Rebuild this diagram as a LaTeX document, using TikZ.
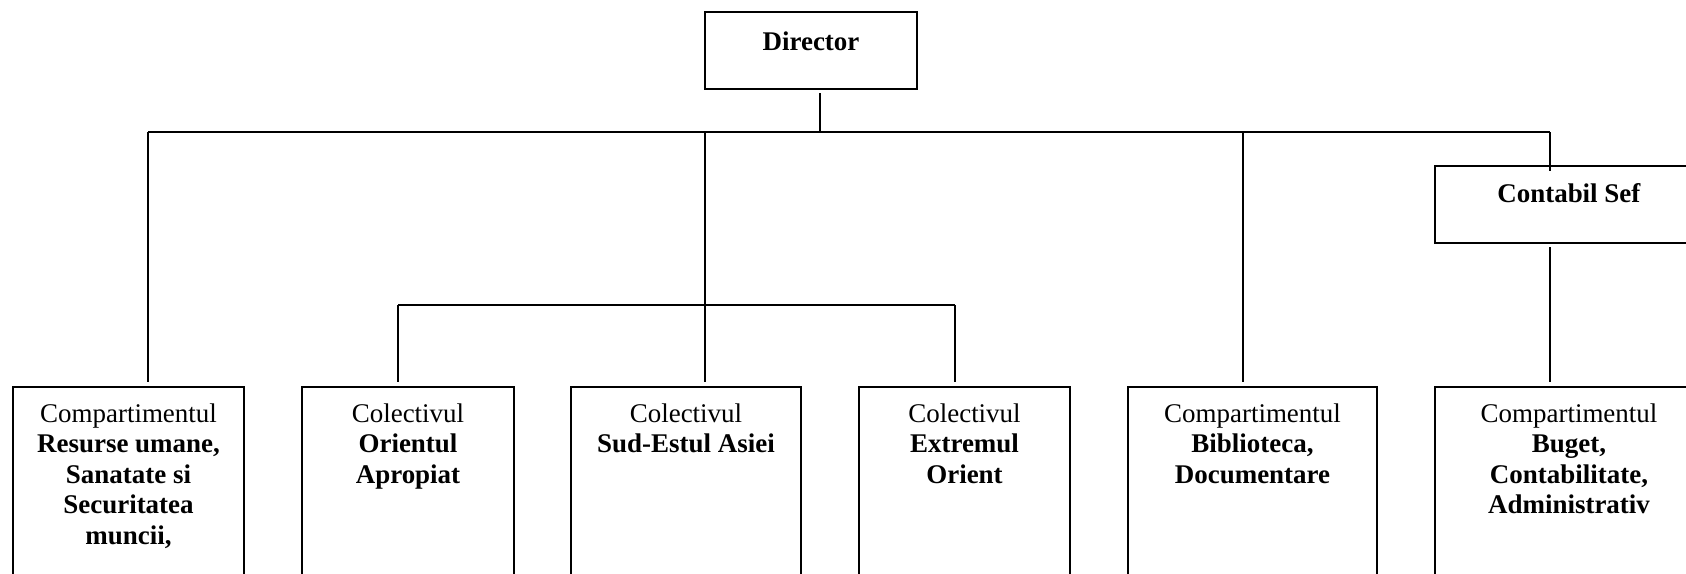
\documentclass[tikz,border=0pt]{standalone}
\usepackage{fontspec}
\setmainfont{Liberation Serif}
\begin{document}
\begin{tikzpicture}[x=0.445pt,y=-0.445pt,
  box/.style={draw,line width=0.85pt,inner sep=0pt,outer sep=0pt,anchor=north west},
  txt/.style={anchor=north,align=center,inner sep=0pt,font=\fontsize{12pt}{13.6pt}\selectfont},
  conn/.style={line width=0.85pt}]
\useasboundingbox (0,0) rectangle (1686,574);
\clip (0,0) rectangle (1686,574);
% boxes
\node[box,minimum width=212*0.445pt,minimum height=77*0.445pt] (dir) at (705,12) {};
\node[box,minimum width=265*0.445pt,minimum height=77*0.445pt] (cs) at (1435,166) {};
\node[box,minimum width=231*0.445pt,minimum height=220*0.445pt] (b1) at (13,387) {};
\node[box,minimum width=212*0.445pt,minimum height=220*0.445pt] (b2) at (302,387) {};
\node[box,minimum width=230*0.445pt,minimum height=220*0.445pt] (b3) at (571,387) {};
\node[box,minimum width=211*0.445pt,minimum height=220*0.445pt] (b4) at (859,387) {};
\node[box,minimum width=249*0.445pt,minimum height=220*0.445pt] (b5) at (1128,387) {};
\node[box,minimum width=265*0.445pt,minimum height=220*0.445pt] (b6) at (1435,387) {};
% texts
\node[txt] (tdir) at (811,31) {\textbf{Director}};
\node[txt] (tcs) at (1569,183) {\textbf{Contabil Sef}};
\node[txt] (t1) at (128.5,403) {Compartimentul\\\textbf{Resurse umane,}\\\textbf{Sanatate si}\\\textbf{Securitatea}\\\textbf{muncii,}};
\node[txt] (t2) at (408,403) {Colectivul\\\textbf{Orientul}\\\textbf{Apropiat}};
\node[txt] (t3) at (686,403) {Colectivul\\\textbf{Sud-Estul Asiei}};
\node[txt] (t4) at (964.5,403) {Colectivul\\\textbf{Extremul}\\\textbf{Orient}};
\node[txt] (t5) at (1252.5,403) {Compartimentul\\\textbf{Biblioteca,}\\\textbf{Documentare}};
\node[txt] (t6) at (1569,403) {Compartimentul\\\textbf{Buget,}\\\textbf{Contabilitate,}\\\textbf{Administrativ}};
% junction coordinates
\coordinate (dj) at (820,93);
\coordinate (bj) at (820,132);
\coordinate (h1) at (148,132);
\coordinate (h3) at (705,132);
\coordinate (h5) at (1243,132);
\coordinate (h6) at (1550,132);
\coordinate (s2) at (398,305);
\coordinate (s4) at (955,305);
\coordinate (csb) at (1550,247);
% connectors
\draw[conn] (dj) -- (bj);
\draw[conn] (h1) -- (h6);
\draw[conn,shorten >=5*0.445pt] (h1) -- (h1 |- b1.north);
\draw[conn,shorten >=5*0.445pt] (h3) -- (h3 |- b3.north);
\draw[conn,shorten >=5*0.445pt] (h5) -- (h5 |- b5.north);
\draw[conn,shorten >=-5*0.445pt] (h6) -- (h6 |- cs.north);
\draw[conn,shorten >=5*0.445pt] (csb) -- (csb |- b6.north);
\draw[conn] (s2) -- (s4);
\draw[conn,shorten >=5*0.445pt] (s2) -- (s2 |- b2.north);
\draw[conn,shorten >=5*0.445pt] (s4) -- (s4 |- b4.north);
\end{tikzpicture}
\end{document}
